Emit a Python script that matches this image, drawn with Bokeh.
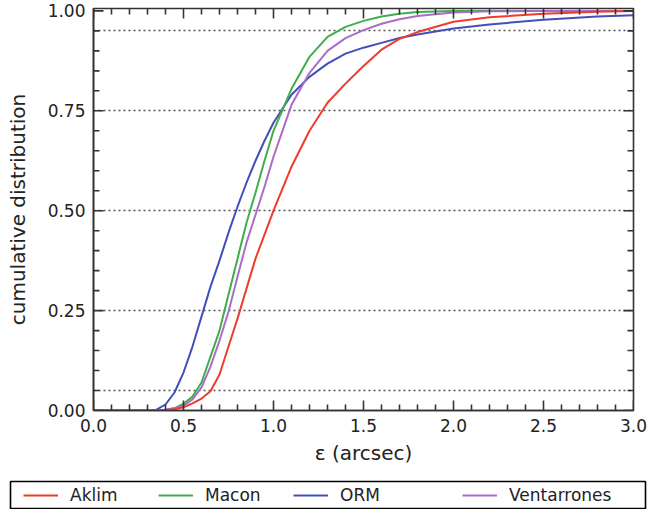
import numpy as np
from bokeh.plotting import figure
from bokeh.models import FixedTicker, Legend, LegendItem, Range1d
from bokeh.layouts import column
from bokeh.embed import file_html
from bokeh.resources import INLINE

# ---- data ----
seeing = [0.0, 0.3, 0.35, 0.4, 0.45, 0.5, 0.55, 0.6, 0.65, 0.7, 0.75, 0.8, 0.85, 0.9, 0.95,
          1.0, 1.1, 1.2, 1.3, 1.4, 1.5, 1.6, 1.7, 1.8, 2.0, 2.2, 2.5, 2.8, 3.0]
aklim = [0, 0, 0, 0.001, 0.003, 0.008, 0.018, 0.03, 0.048, 0.09, 0.16, 0.23, 0.305, 0.38, 0.44,
         0.5, 0.61, 0.7, 0.77, 0.818, 0.862, 0.903, 0.93, 0.947, 0.973, 0.984, 0.993, 0.998, 1.0]
macon = [0, 0, 0, 0.001, 0.005, 0.017, 0.035, 0.07, 0.135, 0.2, 0.29, 0.38, 0.47, 0.545, 0.625,
         0.7, 0.805, 0.885, 0.935, 0.96, 0.975, 0.986, 0.993, 0.997, 1.0, 1.0, 1.0, 1.0, 1.0]
orm = [0, 0, 0.002, 0.015, 0.045, 0.095, 0.16, 0.235, 0.31, 0.375, 0.445, 0.51, 0.57, 0.625, 0.675,
       0.72, 0.79, 0.835, 0.868, 0.893, 0.908, 0.92, 0.932, 0.941, 0.956, 0.966, 0.978, 0.986, 0.989]
ventarrones = [0, 0, 0, 0.002, 0.006, 0.012, 0.028, 0.058, 0.11, 0.175, 0.247, 0.335, 0.42, 0.49, 0.56,
               0.635, 0.765, 0.845, 0.9, 0.932, 0.952, 0.968, 0.979, 0.987, 0.996, 0.999, 1.0, 1.0, 1.0]

site_names = ["Aklim", "Macon", "ORM", "Ventarrones"]
site_colors = ["#ee3b2b", "#3fae4a", "#4050b8", "#a96cc8"]

x_ticks = [0.0, 0.5, 1.0, 1.5, 2.0, 2.5, 3.0]
x_tick_labels = ["0.0", "0.5", "1.0", "1.5", "2.0", "2.5", "3.0"]
y_ticks = [0.0, 0.25, 0.5, 0.75, 1.0]
y_tick_labels = ["0.00", "0.25", "0.50", "0.75", "1.00"]
grid_levels = [0.05, 0.25, 0.5, 0.75, 0.95]

FONT = "DejaVu Sans"
AX = "#333333"
X0, X1 = 0.0, 3.0
Y0, Y1 = 0.0, 1.006

W = 650
LEFT, TOP, FRAME_W, FRAME_H, BOTTOM = 93, 8, 540, 402, 68

p = figure(width=W, height=TOP + FRAME_H + BOTTOM,
           x_range=Range1d(X0, X1), y_range=Range1d(Y0, Y1),
           output_backend="svg", toolbar_location=None,
           min_border_left=LEFT, min_border_right=W - LEFT - FRAME_W,
           min_border_top=TOP, min_border_bottom=BOTTOM,
           x_axis_label="\u03b5 (arcsec)", y_axis_label="cumulative distribution")
p.outline_line_color = AX
p.outline_line_width = 1.6
p.background_fill_color = "white"
p.border_fill_color = "white"

p.xaxis.ticker = FixedTicker(ticks=x_ticks)
p.yaxis.ticker = FixedTicker(ticks=y_ticks)
p.xaxis.major_label_overrides = dict(zip(x_ticks, x_tick_labels))
p.yaxis.major_label_overrides = dict(zip(y_ticks, y_tick_labels))
for ax in (p.xaxis[0], p.yaxis[0]):
    ax.axis_line_color = AX
    ax.axis_line_width = 1.6
    ax.major_tick_line_color = None
    ax.minor_tick_line_color = None
    ax.major_tick_out = 0
    ax.major_tick_in = 0
    ax.minor_tick_out = 0
    ax.minor_tick_in = 0
    ax.major_label_text_font = FONT
    ax.major_label_text_font_size = "17px"
    ax.major_label_text_color = "#222222"
    ax.axis_label_text_font = FONT
    ax.axis_label_text_font_size = "20px"
    ax.axis_label_text_font_style = "normal"
    ax.axis_label_text_color = "#222222"
p.xaxis.major_label_standoff = 8
p.yaxis.major_label_standoff = 8
p.xaxis.axis_label_standoff = 6
p.yaxis.axis_label_standoff = 15

p.xgrid.visible = False
p.ygrid.ticker = FixedTicker(ticks=grid_levels)
p.ygrid.grid_line_color = "#555555"
p.ygrid.grid_line_dash = "2 3"
p.ygrid.grid_line_width = 1.3

series = [aklim, macon, orm, ventarrones]
for i in [2, 1, 3, 0]:
    p.line(seeing, series[i], line_color=site_colors[i], line_width=2)

# inward tick marks on all four sides (NaN-separated polylines), pixel lengths -> data units
px_x = (X1 - X0) / FRAME_W
px_y = (Y1 - Y0) / FRAME_H
x_minor = [float(round(v, 2)) for v in np.arange(X0, X1 + 1e-9, 0.1) if round(v, 2) not in x_ticks]
y_minor = [float(round(v, 2)) for v in np.arange(Y0, 1.0 + 1e-9, 0.05) if round(v, 2) not in y_ticks]
nan = float("nan")

def tick_path(positions, base, length, vertical):
    a, b = [], []
    for t in positions:
        a += [t, t, nan]
        b += [base, base + length, nan]
    return (a, b) if vertical else (b, a)

for pos, L in ((x_ticks, 10), (x_minor, 6)):
    for base, sgn in ((Y0, 1), (Y1, -1)):
        xs_, ys_ = tick_path(pos, base, sgn * L * px_y, True)
        p.line(xs_, ys_, line_color=AX, line_width=1.6)
for pos, L in ((y_ticks, 10), (y_minor, 6)):
    for base, sgn in ((X0, 1), (X1, -1)):
        xs_, ys_ = tick_path(pos, base, sgn * L * px_x, False)
        p.line(xs_, ys_, line_color=AX, line_width=1.6)

# ---- legend strip below ----
LEG_LEFT, LEG_RIGHT, LEG_TOP, LEG_H = 10, 645, 3, 28
p2 = figure(width=W, height=LEG_TOP + LEG_H, output_backend="svg", toolbar_location=None,
            x_axis_type=None, y_axis_type=None,
            x_range=Range1d(10, 11), y_range=Range1d(10, 11),
            min_border_left=LEG_LEFT, min_border_right=W - LEG_RIGHT,
            min_border_top=LEG_TOP, min_border_bottom=0)
if "frame_align" in type(p2).properties():
    p2.frame_align = False
    p.frame_align = False
p2.grid.visible = False
p2.outline_line_color = "black"
p2.outline_line_width = 1.6
p2.background_fill_color = "white"
legend_x = [13, 148, 283, 452]
for name, col, s, lx in zip(site_names, site_colors, series, legend_x):
    r = p2.line(seeing, s, line_color=col, line_width=2)
    lg = Legend(items=[LegendItem(label=name, renderers=[r])], location=(lx, 4),
                orientation="horizontal", padding=0, margin=0, spacing=0,
                glyph_width=35, glyph_height=20, label_standoff=12, label_height=20,
                label_text_font=FONT, label_text_font_size="17px", label_text_color="#222222",
                border_line_color=None, background_fill_alpha=0)
    p2.add_layout(lg, "center")

layout = column(p, p2, spacing=0)
open("out.html", "w").write(file_html(layout, INLINE))
